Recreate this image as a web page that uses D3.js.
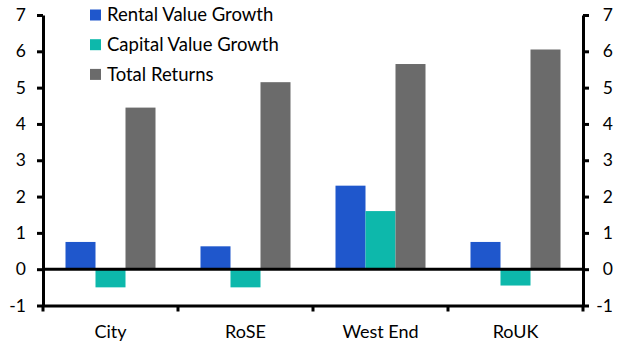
<!DOCTYPE html>
<html><head><meta charset="utf-8">
<script src="https://cdnjs.cloudflare.com/ajax/libs/d3/7.8.5/d3.min.js"></script>
<style>body{margin:0;background:#fff}svg{display:block}text{font-family:Lato,"Open Sans",sans-serif;fill:#000}</style>
</head><body><svg id="c" width="627" height="359"></svg>
<script>
const categories = ["City", "RoSE", "West End", "RoUK"];
const seriesNames = ["Rental Value Growth", "Capital Value Growth", "Total Returns"];
const rentalValueGrowth = [0.75, 0.63, 2.3, 0.75];
const capitalValueGrowth = [-0.5, -0.5, 1.6, -0.45];
const totalReturns = [4.45, 5.15, 5.65, 6.05];
const yTicks = [-1, 0, 1, 2, 3, 4, 5, 6, 7];
const colors = ["#1f57cc", "#0db8ab", "#6b6b6b"];

const series = [rentalValueGrowth, capitalValueGrowth, totalReturns];
const svg = d3.select("#c");
const mLeft = 43, mRight = 583, mTop = 15, mBottom = 305.5;
const x = d3.scaleBand().domain(categories).range([mLeft, mRight]).paddingInner(0).paddingOuter(0);
const y = d3.scaleLinear().domain([-1, 7]).range([mBottom, mTop]);
const groupW = x.bandwidth() * 2 / 3;
const xs = d3.scaleBand().domain(d3.range(series.length)).range([0, groupW]);

// bars
series.forEach((vals, si) => {
  svg.append("g").selectAll("rect").data(vals).join("rect")
    .attr("x", (d, i) => x(categories[i]) + (x.bandwidth() - groupW) / 2 + xs(si))
    .attr("width", xs.bandwidth())
    .attr("y", d => y(Math.max(0, d)))
    .attr("height", d => Math.abs(y(d) - y(0)))
    .attr("fill", colors[si]);
});

// zero line
svg.append("line").attr("x1", mLeft).attr("x2", mRight).attr("y1", y(0)).attr("y2", y(0))
  .attr("stroke", "#000").attr("stroke-width", 3);

const fmt = d => String(d);
// left axis
const yl = svg.append("g").attr("transform", `translate(${mLeft},0)`)
  .call(d3.axisLeft(y).tickValues(yTicks).tickFormat(fmt).tickSize(6).tickPadding(11).tickSizeOuter(0));
// right axis
const yr = svg.append("g").attr("transform", `translate(${mRight},0)`)
  .call(d3.axisRight(y).tickValues(yTicks).tickFormat(fmt).tickSize(6).tickPadding(11).tickSizeOuter(0));
// bottom axis
const xb = svg.append("g").attr("transform", `translate(0,${mBottom})`)
  .call(d3.axisBottom(x).tickSize(0).tickPadding(20));
[mLeft, ...categories.map(c => x(c) + x.bandwidth())].forEach(px => {
  xb.append("line").attr("x1", px).attr("x2", px).attr("y1", 0).attr("y2", 6)
    .attr("stroke", "#000").attr("stroke-width", 3);
});
[yl, yr, xb].forEach(g => {
  g.selectAll(".domain").attr("stroke", "#000").attr("stroke-width", 3);
  g.selectAll(".tick line").attr("stroke", "#000").attr("stroke-width", 3);
  g.selectAll("text").attr("font-size", 17.5).attr("font-family", "Lato, 'Open Sans', sans-serif").attr("fill", "#000");
});
yr.selectAll("text").attr("text-anchor", "end").attr("x", 30);
xb.selectAll("text").attr("font-size", 18);

// legend
const lg = svg.append("g");
seriesNames.forEach((n, i) => {
  const yy = 15 + i * 29.7;
  lg.append("rect").attr("x", 90).attr("y", yy - 5.5).attr("width", 11).attr("height", 11).attr("fill", colors[i]);
  lg.append("text").attr("x", 107).attr("y", yy).attr("dy", "0.35em").attr("font-size", 18.5).text(n);
});
</script></body></html>
